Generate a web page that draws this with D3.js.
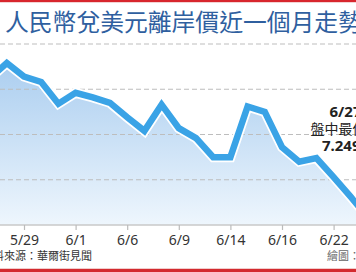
<!DOCTYPE html>
<html>
<head>
<meta charset="utf-8">
<script src="https://cdn.jsdelivr.net/npm/d3@7"></script>
<style>
  html, body { margin: 0; padding: 0; background: #fff; }
  svg { display: block; overflow: hidden; }
</style>
</head>
<body>
<svg id="chart" width="356" height="272"></svg>
<script>
// ---- data ----
const categories = ["5/25","5/26","5/29","5/30","5/31","6/1","6/2","6/5","6/6","6/7","6/8","6/9",
  "6/12","6/13","6/14","6/15","6/16","6/19","6/20","6/21","6/22","6/23","6/26","6/27"];
const values = [7.088,7.071,7.086,7.092,7.116,7.104,7.109,7.115,7.131,7.146,7.117,7.143,
  7.154,7.175,7.175,7.119,7.125,7.164,7.180,7.176,7.197,7.219,7.242,7.2498];
const tickCategories = ["5/29","6/1","6/6","6/9","6/14","6/19","6/22"];
const tickLabels = ["5/29","6/1","6/6","6/9","6/14","6/16","6/22"];
const gridValues = [7.05, 7.10, 7.15, 7.20];
const titleText = "人民幣兌美元離岸價近一個月走勢";
const sourceText = "資料來源：華爾街見聞";
const creditText = "繪圖：編輯部";
const noteLines = ["6/27", "盤中最低價", "7.2498"];

// ---- drawing ----
const W = 356, H = 272;
const svg = d3.select("#chart");
const cjk = "'Noto Sans CJK TC','Noto Sans CJK SC',sans-serif";

const step = 17.2;
const x = d3.scalePoint().domain(categories)
  .range([24 - 2 * step, 24 + (categories.length - 3) * step]);
const y = d3.scaleLinear().domain([7.05, 7.25]).range([44, 225]);
const data = categories.map((c, i) => ({ c, v: values[i] }));

// red bars
svg.append("rect").attr("x", 0).attr("y", 0).attr("width", W).attr("height", 2).attr("fill", "#d8262d");
svg.append("rect").attr("x", 0).attr("y", 2).attr("width", W).attr("height", 1).attr("fill", "#f3d3d3");

// title
svg.append("text").attr("x", 5).attr("y", 31)
  .attr("font-family", cjk).attr("font-size", 23.8).attr("font-weight", 400)
  .attr("fill", "#2f5f9f").text(titleText);

// gradient
const defs = svg.append("defs");
const grad = defs.append("linearGradient").attr("id", "ag")
  .attr("gradientUnits", "userSpaceOnUse")
  .attr("x1", 0).attr("y1", y(7.05)).attr("x2", 0).attr("y2", y(7.25));
grad.append("stop").attr("offset", "0%").attr("stop-color", "#a3c9ee");
grad.append("stop").attr("offset", "100%").attr("stop-color", "#eef6fd");

// area
const area = d3.area().x(d => x(d.c)).y0(y(7.25)).y1(d => y(d.v));
svg.append("path").datum(data).attr("d", area).attr("fill", "url(#ag)");

// gridlines
svg.append("g").selectAll("line").data(gridValues).join("line")
  .attr("x1", 0).attr("x2", W)
  .attr("y1", d => y(d)).attr("y2", d => y(d))
  .attr("stroke", "#bdbdbd").attr("stroke-width", 1.2).attr("stroke-dasharray", "5,3");

// line (halo + stroke)
const line = d3.line().x(d => x(d.c)).y(d => y(d.v));
svg.append("path").datum(data).attr("d", line)
  .attr("fill", "none").attr("stroke", "#ffffff").attr("stroke-width", 10)
  .attr("stroke-linejoin", "miter");
svg.append("path").datum(data).attr("d", line)
  .attr("fill", "none").attr("stroke", "#3aa3e6").attr("stroke-width", 6.5)
  .attr("stroke-linejoin", "miter");

// x axis
svg.append("line").attr("x1", 0).attr("x2", W).attr("y1", 225).attr("y2", 225)
  .attr("stroke", "#c8c8c8").attr("stroke-width", 1.5);
const xAxis = d3.axisBottom(x).tickValues(tickCategories)
  .tickFormat(d => tickLabels[tickCategories.indexOf(d)])
  .tickSize(5).tickPadding(4);
const ag = svg.append("g").attr("transform", "translate(0,225)").call(xAxis);
ag.select(".domain").remove();
ag.selectAll(".tick line").attr("stroke", "#bbbbbb").attr("stroke-width", 1.2);
ag.selectAll(".tick text").attr("font-family", "'Noto Sans',sans-serif")
  .attr("font-size", 14).attr("fill", "#333").attr("dy", "0.75em");

// annotation
const noteX = 345.5;
const noteY = [117, 134, 151];
noteLines.forEach((t, i) => {
  svg.append("text").attr("x", noteX).attr("y", noteY[i]).attr("text-anchor", "middle")
    .attr("font-family", i === 1 ? cjk : "'Noto Sans',sans-serif")
    .attr("font-size", i === 1 ? 14 : 15)
    .attr("font-weight", i === 1 ? 400 : 700)
    .attr("fill", "#222").text(t);
});

// source & credit
svg.append("text").attr("x", -18).attr("y", 260)
  .attr("font-family", cjk).attr("font-size", 11).attr("fill", "#333").text(sourceText);
svg.append("text").attr("x", 327).attr("y", 260)
  .attr("font-family", cjk).attr("font-size", 11).attr("fill", "#666").text(creditText);

// bottom red bar
svg.append("rect").attr("x", 0).attr("y", 268).attr("width", W).attr("height", 1).attr("fill", "#f1cccc");
svg.append("rect").attr("x", 0).attr("y", 269).attr("width", W).attr("height", 3).attr("fill", "#d42a2f");
</script>
</body>
</html>
